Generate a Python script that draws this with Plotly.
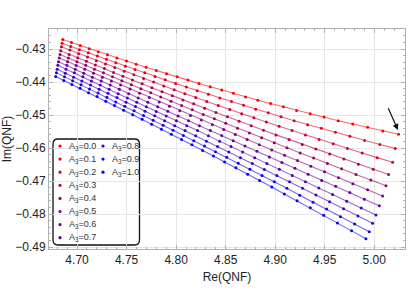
import plotly.graph_objects as go

a3_values = [0.0, 0.1, 0.2, 0.3, 0.4, 0.5, 0.6, 0.7, 0.8, 0.9, 1.0]

re_0 = [4.6856, 4.6944, 4.7032, 4.7123, 4.7214, 4.7307, 4.7402, 4.7499, 4.7597, 4.7697, 4.7800, 4.7904, 4.8011, 4.8119, 4.8231, 4.8344, 4.8461, 4.8579, 4.8701, 4.8825, 4.8953, 4.9083, 4.9216, 4.9353, 4.9493, 4.9636, 4.9783, 4.9933, 5.0087, 5.0245]
im_0 = [-0.4271, -0.4280, -0.4289, -0.4299, -0.4308, -0.4317, -0.4327, -0.4336, -0.4346, -0.4355, -0.4365, -0.4375, -0.4384, -0.4394, -0.4404, -0.4414, -0.4424, -0.4434, -0.4445, -0.4455, -0.4465, -0.4475, -0.4486, -0.4496, -0.4506, -0.4517, -0.4527, -0.4537, -0.4548, -0.4558]

re_1 = [4.6849, 4.6936, 4.7024, 4.7114, 4.7205, 4.7297, 4.7391, 4.7487, 4.7585, 4.7684, 4.7786, 4.7889, 4.7995, 4.8103, 4.8213, 4.8326, 4.8441, 4.8559, 4.8680, 4.8803, 4.8930, 4.9059, 4.9191, 4.9327, 4.9466, 4.9608, 4.9754, 4.9903, 5.0056, 5.0212]
im_1 = [-0.4282, -0.4292, -0.4302, -0.4311, -0.4321, -0.4331, -0.4341, -0.4352, -0.4362, -0.4372, -0.4383, -0.4393, -0.4404, -0.4415, -0.4426, -0.4437, -0.4448, -0.4459, -0.4470, -0.4482, -0.4493, -0.4505, -0.4517, -0.4529, -0.4540, -0.4552, -0.4564, -0.4577, -0.4589, -0.4601]

re_2 = [4.6842, 4.6928, 4.7016, 4.7105, 4.7195, 4.7287, 4.7381, 4.7476, 4.7573, 4.7672, 4.7773, 4.7876, 4.7981, 4.8088, 4.8198, 4.8310, 4.8425, 4.8542, 4.8662, 4.8785, 4.8910, 4.9039, 4.9170, 4.9305, 4.9443, 4.9585, 4.9729, 4.9878, 5.0029, 5.0185]
im_2 = [-0.4293, -0.4303, -0.4314, -0.4324, -0.4335, -0.4345, -0.4356, -0.4367, -0.4378, -0.4389, -0.4400, -0.4412, -0.4423, -0.4435, -0.4447, -0.4459, -0.4471, -0.4483, -0.4496, -0.4508, -0.4521, -0.4534, -0.4547, -0.4560, -0.4574, -0.4587, -0.4601, -0.4615, -0.4629, -0.4643]

re_3 = [4.6835, 4.6921, 4.7007, 4.7095, 4.7185, 4.7276, 4.7368, 4.7463, 4.7559, 4.7657, 4.7756, 4.7858, 4.7962, 4.8069, 4.8177, 4.8288, 4.8402, 4.8518, 4.8636, 4.8758, 4.8882, 4.9009, 4.9140, 4.9273, 4.9410, 4.9550, 4.9693, 4.9840, 4.9990, 5.0144]
im_3 = [-0.4305, -0.4316, -0.4326, -0.4337, -0.4348, -0.4359, -0.4371, -0.4382, -0.4394, -0.4405, -0.4417, -0.4429, -0.4441, -0.4454, -0.4466, -0.4479, -0.4492, -0.4505, -0.4519, -0.4532, -0.4546, -0.4560, -0.4574, -0.4589, -0.4603, -0.4618, -0.4633, -0.4649, -0.4664, -0.4680]

re_4 = [4.6828, 4.6913, 4.6999, 4.7087, 4.7176, 4.7266, 4.7358, 4.7452, 4.7548, 4.7645, 4.7744, 4.7845, 4.7949, 4.8055, 4.8163, 4.8273, 4.8386, 4.8501, 4.8619, 4.8740, 4.8863, 4.8990, 4.9119, 4.9252, 4.9388, 4.9527, 4.9670, 4.9815, 4.9965, 5.0118]
im_4 = [-0.4316, -0.4327, -0.4338, -0.4349, -0.4361, -0.4372, -0.4384, -0.4396, -0.4408, -0.4420, -0.4432, -0.4445, -0.4458, -0.4471, -0.4484, -0.4498, -0.4511, -0.4525, -0.4540, -0.4554, -0.4569, -0.4584, -0.4599, -0.4615, -0.4630, -0.4647, -0.4663, -0.4680, -0.4697, -0.4714]

re_5 = [4.6821, 4.6905, 4.6991, 4.7078, 4.7166, 4.7256, 4.7347, 4.7440, 4.7535, 4.7631, 4.7730, 4.7830, 4.7933, 4.8037, 4.8145, 4.8254, 4.8366, 4.8480, 4.8597, 4.8717, 4.8839, 4.8965, 4.9094, 4.9225, 4.9360, 4.9498, 4.9639, 4.9784, 4.9932, 5.0084]
im_5 = [-0.4327, -0.4338, -0.4350, -0.4361, -0.4373, -0.4385, -0.4397, -0.4409, -0.4421, -0.4434, -0.4447, -0.4460, -0.4473, -0.4487, -0.4501, -0.4515, -0.4529, -0.4544, -0.4559, -0.4574, -0.4590, -0.4606, -0.4622, -0.4638, -0.4655, -0.4672, -0.4690, -0.4708, -0.4726, -0.4745]

re_6 = [4.6813, 4.6897, 4.6982, 4.7068, 4.7155, 4.7244, 4.7335, 4.7427, 4.7521, 4.7617, 4.7715, 4.7814, 4.7916, 4.8020, 4.8126, 4.8235, 4.8346, 4.8460, 4.8576, 4.8695, 4.8816, 4.8941, 4.9068, 4.9199, 4.9332, 4.9469, 4.9610, 4.9753, 4.9900, 5.0051]
im_6 = [-0.4338, -0.4349, -0.4361, -0.4373, -0.4385, -0.4397, -0.4409, -0.4422, -0.4435, -0.4448, -0.4461, -0.4475, -0.4488, -0.4503, -0.4517, -0.4532, -0.4547, -0.4562, -0.4578, -0.4594, -0.4610, -0.4627, -0.4644, -0.4661, -0.4679, -0.4698, -0.4716, -0.4735, -0.4755, -0.4775]

re_7 = [4.6806, 4.6889, 4.6973, 4.7059, 4.7145, 4.7234, 4.7324, 4.7415, 4.7508, 4.7603, 4.7700, 4.7799, 4.7900, 4.8003, 4.8108, 4.8216, 4.8326, 4.8439, 4.8554, 4.8672, 4.8793, 4.8916, 4.9042, 4.9172, 4.9305, 4.9440, 4.9579, 4.9722, 4.9868, 5.0017]
im_7 = [-0.4349, -0.4361, -0.4372, -0.4384, -0.4397, -0.4409, -0.4422, -0.4435, -0.4448, -0.4461, -0.4475, -0.4489, -0.4503, -0.4517, -0.4532, -0.4547, -0.4563, -0.4579, -0.4595, -0.4612, -0.4629, -0.4647, -0.4664, -0.4683, -0.4702, -0.4721, -0.4741, -0.4761, -0.4782, -0.4803]

re_8 = [4.6799, 4.6881, 4.6965, 4.7049, 4.7136, 4.7223, 4.7312, 4.7403, 4.7495, 4.7590, 4.7686, 4.7784, 4.7884, 4.7986, 4.8090, 4.8197, 4.8306, 4.8418, 4.8532, 4.8649, 4.8769, 4.8891, 4.9017, 4.9145, 4.9276, 4.9411, 4.9549, 4.9690, 4.9835, 4.9983]
im_8 = [-0.4361, -0.4373, -0.4385, -0.4397, -0.4409, -0.4422, -0.4434, -0.4447, -0.4461, -0.4474, -0.4488, -0.4502, -0.4517, -0.4532, -0.4547, -0.4563, -0.4579, -0.4595, -0.4612, -0.4629, -0.4647, -0.4665, -0.4683, -0.4702, -0.4722, -0.4742, -0.4763, -0.4784, -0.4806, -0.4828]

re_9 = [4.6792, 4.6874, 4.6956, 4.7040, 4.7126, 4.7212, 4.7301, 4.7391, 4.7482, 4.7576, 4.7671, 4.7768, 4.7868, 4.7969, 4.8073, 4.8178, 4.8287, 4.8397, 4.8511, 4.8627, 4.8745, 4.8867, 4.8991, 4.9118, 4.9248, 4.9382, 4.9519, 4.9659, 4.9802, 4.9949]
im_9 = [-0.4372, -0.4384, -0.4396, -0.4408, -0.4421, -0.4433, -0.4446, -0.4460, -0.4473, -0.4487, -0.4501, -0.4516, -0.4531, -0.4546, -0.4562, -0.4578, -0.4594, -0.4611, -0.4628, -0.4646, -0.4664, -0.4683, -0.4702, -0.4722, -0.4743, -0.4764, -0.4785, -0.4808, -0.4830, -0.4854]

re_10 = [4.6785, 4.6866, 4.6948, 4.7031, 4.7116, 4.7202, 4.7290, 4.7379, 4.7470, 4.7562, 4.7657, 4.7753, 4.7852, 4.7952, 4.8055, 4.8160, 4.8267, 4.8377, 4.8489, 4.8604, 4.8722, 4.8842, 4.8966, 4.9092, 4.9221, 4.9354, 4.9489, 4.9628, 4.9771, 4.9916]
im_10 = [-0.4383, -0.4395, -0.4407, -0.4419, -0.4432, -0.4444, -0.4458, -0.4471, -0.4485, -0.4499, -0.4513, -0.4528, -0.4543, -0.4558, -0.4574, -0.4590, -0.4607, -0.4624, -0.4642, -0.4660, -0.4679, -0.4698, -0.4718, -0.4739, -0.4760, -0.4781, -0.4804, -0.4827, -0.4851, -0.4875]

re_series = [re_0, re_1, re_2, re_3, re_4, re_5, re_6, re_7, re_8, re_9, re_10]
im_series = [im_0, im_1, im_2, im_3, im_4, im_5, im_6, im_7, im_8, im_9, im_10]

x_ticks = [4.70, 4.75, 4.80, 4.85, 4.90, 4.95, 5.00]
y_ticks = [-0.49, -0.48, -0.47, -0.46, -0.45, -0.44, -0.43]

FONT = "Liberation Sans, Arial, sans-serif"
W, H = 409, 307
ML, MR, MT, MB = 49, 4, 29, 58
PW, PH = W - ML - MR, H - MT - MB


def color(a, alpha=1.0):
    return "rgba(%d,0,%d,%.2f)" % (round(255 * (1 - a)), round(255 * a), alpha)


def px2paper(px, py):
    return (px - ML) / PW, (MT + PH - py) / PH


fig = go.Figure()
for a, xs, ys in zip(a3_values, re_series, im_series):
    fig.add_trace(go.Scatter(
        x=xs, y=ys, mode="lines", showlegend=False, hoverinfo="skip",
        line=dict(color=color(a, 0.6), width=1.1),
    ))
for a, xs, ys in zip(a3_values, re_series, im_series):
    fig.add_trace(go.Scatter(
        x=xs, y=ys, mode="markers", showlegend=False,
        name="A<sub>3</sub>=%.1f" % a,
        marker=dict(color=color(a), size=3),
    ))

axis_common = dict(
    showgrid=True, gridcolor="#e6e6e6", gridwidth=1,
    showline=True, linecolor="#b0b0b0", linewidth=1, mirror="ticks",
    ticks="inside", ticklen=4, tickcolor="#b0b0b0", tickwidth=1,
    zeroline=False, automargin=False,
    tickfont=dict(family=FONT, size=12, color="#222222"),
)

fig.update_xaxes(
    range=[4.6717, 5.031], tickvals=x_ticks,
    ticktext=["%.2f" % v for v in x_ticks],
    minor=dict(dtick=0.01, ticks="inside", ticklen=2, tickcolor="#b0b0b0", showgrid=False),
    title=dict(text="Re(QNF)", font=dict(family=FONT, size=12, color="#222222"), standoff=6),
    **axis_common,
)
fig.update_yaxes(
    range=[-0.4906, -0.4239], tickvals=y_ticks,
    ticktext=["\u2212%.2f" % abs(v) for v in y_ticks],
    minor=dict(dtick=0.002, ticks="inside", ticklen=2, tickcolor="#b0b0b0", showgrid=False),
    title=dict(text="Im(QNF)", font=dict(family=FONT, size=12, color="#222222"), standoff=4),
    **axis_common,
)

# manual two-column legend in a rounded box
shapes = []
annotations = []
bx0, by0 = px2paper(53, 139)
bx1, by1 = px2paper(139.5, 245)
rx, ry = 5 / PW, 5 / PH
path = ("M %f,%f L %f,%f Q %f,%f %f,%f L %f,%f Q %f,%f %f,%f L %f,%f Q %f,%f %f,%f L %f,%f Q %f,%f %f,%f Z" % (
    bx0 + rx, by0, bx1 - rx, by0, bx1, by0, bx1, by0 - ry, bx1, by1 + ry, bx1, by1, bx1 - rx, by1,
    bx0 + rx, by1, bx0, by1, bx0, by1 + ry, bx0, by0 - ry, bx0, by0, bx0 + rx, by0))
shapes.append(dict(type="path", xref="paper", yref="paper", layer="below", path=path,
                   line=dict(color="#111111", width=1.3), fillcolor="white"))
for i, a in enumerate(a3_values):
    col, row = (0, i) if i < 8 else (1, i - 8)
    dot_x = 60 + 43 * col
    row_y = 146 + 13.1 * row
    cx, cy = px2paper(dot_x, row_y)
    r_x, r_y = 1.6 / PW, 1.6 / PH
    shapes.append(dict(type="circle", xref="paper", yref="paper", layer="above",
                       x0=cx - r_x, x1=cx + r_x, y0=cy - r_y, y1=cy + r_y,
                       fillcolor=color(a), line=dict(width=0)))
    tx, ty = px2paper(dot_x + 6.5, row_y)
    annotations.append(dict(x=tx, y=ty, xref="paper", yref="paper", xanchor="left", yanchor="middle",
                            text="A<sub>3</sub>=%.1f" % a, showarrow=False,
                            font=dict(family=FONT, size=9, color="#333333")))

annotations.append(dict(
    x=5.0239, y=-0.4545, ax=5.0134, ay=-0.4475,
    xref="x", yref="y", axref="x", ayref="y",
    text="", showarrow=True, arrowhead=2, arrowsize=1, arrowwidth=1.2,
    arrowcolor="#111111",
))

fig.update_layout(
    width=W, height=H,
    margin=dict(l=ML, r=MR, t=MT, b=MB, autoexpand=False),
    paper_bgcolor="white", plot_bgcolor="white",
    showlegend=False,
    shapes=shapes,
    annotations=annotations,
)

fig.write_html("out.html", config={"displayModeBar": False},
               post_script="document.body.style.margin='0';document.body.style.overflow='hidden';")
